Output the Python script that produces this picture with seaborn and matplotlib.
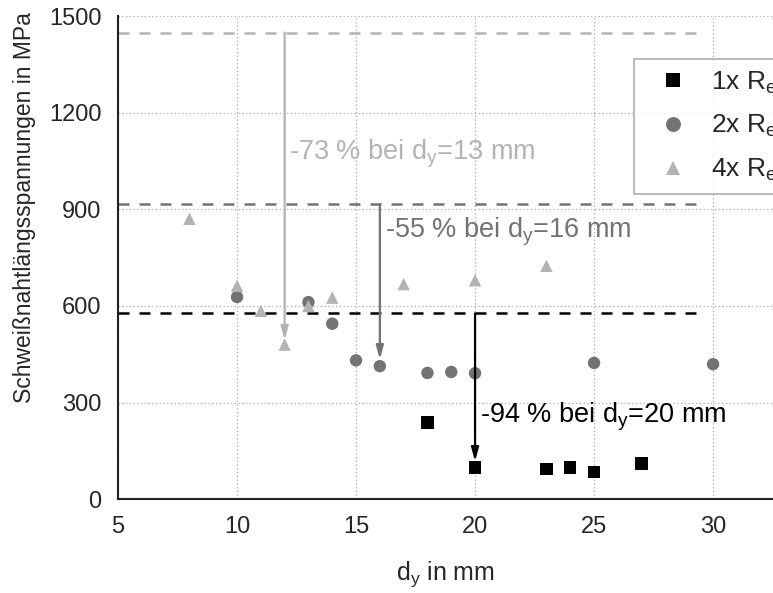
import pandas as pd
import numpy as np
import matplotlib
matplotlib.use("Agg")
import matplotlib.pyplot as plt
import seaborn as sns

# ==============================
# Data
# ==============================
dy_1x = [18, 20, 23, 24, 25, 27]
s_1x = [238, 98, 94, 98, 84, 110]

dy_2x = [10, 13, 14, 15, 16, 18, 19, 20, 25, 30]
s_2x = [628, 612, 545, 431, 413, 392, 395, 391, 423, 419]

dy_4x = [8, 10, 11, 12, 13, 14, 17, 20, 23]
s_4x = [871, 663, 585, 480, 600, 626, 668, 680, 725]

series_labels = ["1x R$_e$", "2x R$_e$", "4x R$_e$"]
ref_levels = [577, 917, 1450]  # reference stress per series (dashed lines)
arrow_x = [20, 16, 12]
arrow_tip = [117, 434, 494]
notes = ["-94 % bei d$_y$=20 mm", "-55 % bei d$_y$=16 mm", "-73 % bei d$_y$=13 mm"]
note_pos = [(20.2, 256), (16.2, 829), (12.2, 1074)]

colors = ["#000000", "#737373", "#b3b3b3"]

df = pd.concat([
    pd.DataFrame({"dy": dy_1x, "s": s_1x, "serie": series_labels[0]}),
    pd.DataFrame({"dy": dy_2x, "s": s_2x, "serie": series_labels[1]}),
    pd.DataFrame({"dy": dy_4x, "s": s_4x, "serie": series_labels[2]}),
])

# ==============================
# Plot
# ==============================
sns.set_style("white")
plt.rcParams["font.family"] = ["Liberation Sans", "DejaVu Sans"]
plt.rcParams["mathtext.default"] = "regular"

fig = plt.figure(figsize=(7.73, 5.93), dpi=100)
ax = fig.add_axes([0.1527, 0.1585, 0.9237, 0.8137])

# dashed reference lines
for lvl, c in zip(ref_levels, colors):
    ax.hlines(lvl, 5, 29.6, colors=c, linestyles=(0, (4.4, 4)), lw=1.8, zorder=2)

sns.scatterplot(data=df, x="dy", y="s", hue="serie", style="serie",
                palette=dict(zip(series_labels, colors)),
                markers=dict(zip(series_labels, ["s", "o", "^"])),
                s=80, linewidth=0, ax=ax, zorder=3)

# arrows + text
for x, lvl, tip, c, txt, (tx, ty) in zip(arrow_x, ref_levels, arrow_tip, colors, notes, note_pos):
    ax.annotate("", xy=(x, tip), xytext=(x, lvl),
                arrowprops=dict(arrowstyle="-|>,head_length=0.8,head_width=0.22",
                                color=c, lw=1.6, shrinkA=0, shrinkB=0), zorder=4)
    ax.text(tx, ty, txt, color=c, fontsize=19.5, ha="left", va="center", zorder=5)

ax.set_xlim(5, 35)
ax.set_ylim(0, 1500)
ax.set_xticks([5, 10, 15, 20, 25, 30, 35])
ax.set_xticks(np.arange(7.5, 35, 5), minor=True)
ax.set_yticks(np.arange(0, 1501, 300))
ax.set_yticks(np.arange(150, 1500, 300), minor=True)
ax.grid(True, which="major", color="#aaaaaa", linestyle=(0, (1, 2)), lw=0.9)
ax.set_axisbelow(True)

for side in ["top", "right"]:
    ax.spines[side].set_visible(False)
for side in ["left", "bottom"]:
    ax.spines[side].set_color("#222222")
    ax.spines[side].set_linewidth(1.5)
ax.tick_params(which="major", direction="out", length=7, width=1.5, color="#222222",
               labelsize=17, pad=5)
ax.tick_params(which="minor", direction="out", length=4, width=1.5, color="#222222")

ax.set_xlabel("d$_y$ in mm", fontsize=18)
ax.set_ylabel("Schweißnahtlängsspannungen in MPa", fontsize=16.5)
ax.xaxis.set_label_coords(0.458, -0.124)
ax.yaxis.set_label_coords(-0.115, 0.605)

handles, labels = ax.get_legend_handles_labels()
leg = ax.legend(handles, labels, loc="upper left", bbox_to_anchor=(0.7227, 0.9118),
                fontsize=19, frameon=True, fancybox=False, borderpad=0.4,
                handlelength=2.15, handletextpad=0.37, labelspacing=0.66,
                borderaxespad=0, markerscale=1.2)
leg.get_frame().set_edgecolor("#999999")
leg.get_frame().set_linewidth(1.2)

plt.savefig("out.png", dpi=100)
